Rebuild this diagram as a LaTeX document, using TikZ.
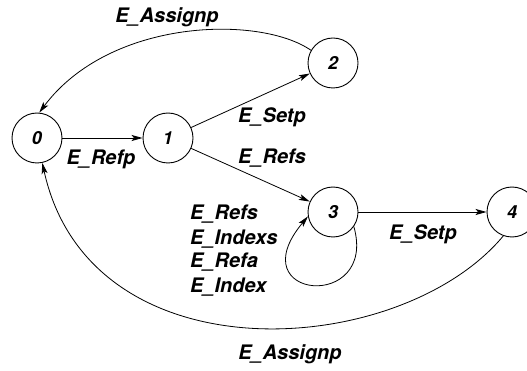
\documentclass[tikz,border=0pt]{standalone}
\usepackage{fontspec}
\setmainfont{TeX Gyre Heros}
\usetikzlibrary{arrows.meta}
\begin{document}
\begin{tikzpicture}[x=1pt,y=-1pt,
  state/.style={circle,draw,line width=0.9pt,minimum size=50pt,inner sep=0pt,
    font=\fontsize{18}{20}\selectfont\bfseries\itshape},
  lbl/.style={inner sep=0pt,font=\fontsize{20}{24}\selectfont\bfseries\itshape},
  edge/.style={line width=0.8pt,-{Stealth[length=11pt,width=6pt,inset=2.5pt]}}]
\useasboundingbox (0,0) rectangle (527,371);

% states
\node[state] (n0) at (37,138) {0};
\node[state] (n1) at (168,138) {1};
\node[state] (n2) at (333,63) {2};
\node[state] (n3) at (333,212) {3};
\node[state] (n4) at (512,212) {4};

% transitions
\draw[edge] (n0) -- (n1);
\draw[edge] (n1) -- (n2);
\draw[edge] (n1) -- (n3);
\draw[edge] (n3) -- (n4);
\draw[edge] (n2.150) .. controls (260,15) and (110,18) .. (n0.85);
\draw[edge] (n4.-110) .. controls (400,360) and (90,380) .. (n0.-78);
\draw[edge] (n3.-35) .. controls (378,312) and (238,300) .. (n3.190);

% transition labels
\node[lbl] (lAssignTop) at (167,17) {E\_Assignp};
\node[lbl] (lRefp) at (101,159) {E\_Refp};
\node[lbl] (lSetpA) at (272,117) {E\_Setp};
\node[lbl] (lRefsA) at (272,158) {E\_Refs};
\node[lbl] (lSetpB) at (423,234) {E\_Setp};
\node[lbl] (lAssignBot) at (290,354) {E\_Assignp};
\node[lbl,anchor=base west] (lLoopA) at (190,220) {E\_Refs};
\node[lbl,anchor=base west] (lLoopB) at (190,244) {E\_Indexs};
\node[lbl,anchor=base west] (lLoopC) at (190,268) {E\_Refa};
\node[lbl,anchor=base west] (lLoopD) at (190,292) {E\_Index};
\end{tikzpicture}
\end{document}
